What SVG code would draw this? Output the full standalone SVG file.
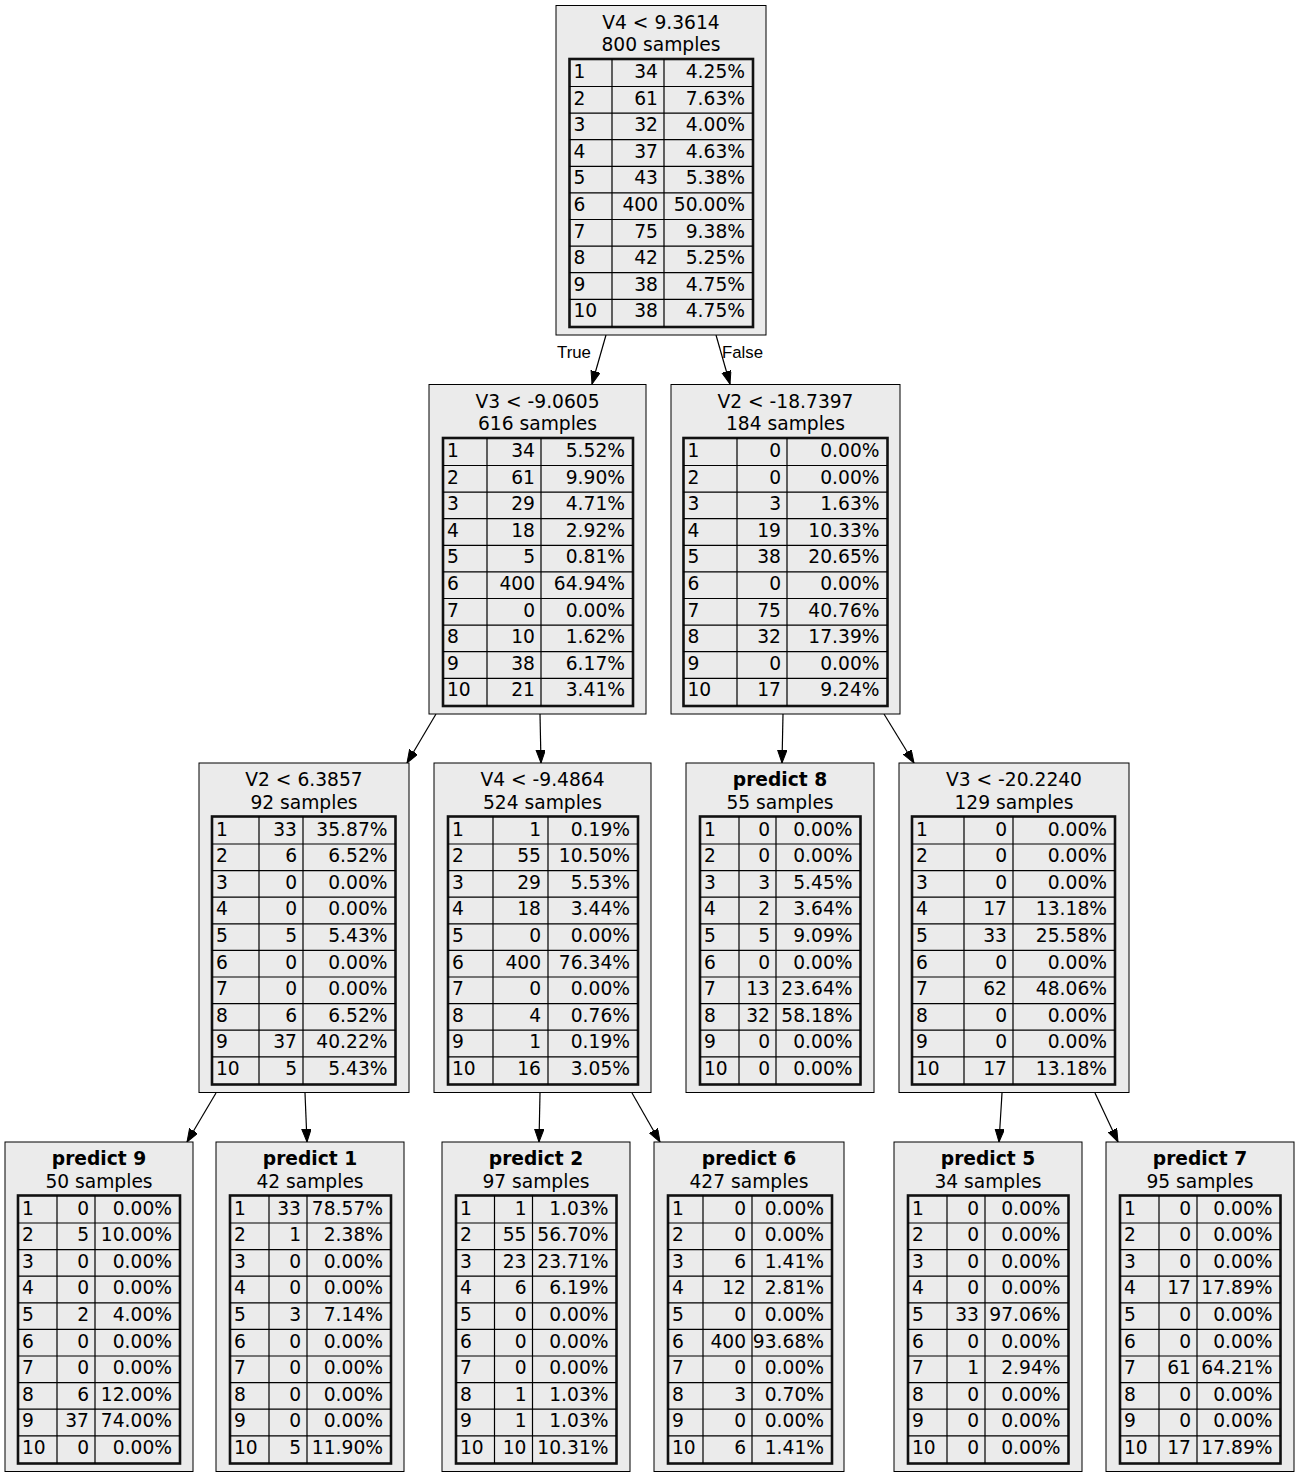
<svg xmlns="http://www.w3.org/2000/svg" width="1299" height="1477" viewBox="0 0 1299 1477">
<style>
text{font-family:"DejaVu Sans","Noto Sans",sans-serif;font-size:18.67px;fill:#000}
.c{text-anchor:middle}
.b{font-weight:bold}
.r{text-anchor:end}
.box{fill:#ebebeb;stroke:#000;stroke-width:1}
.tb{fill:#ebebeb;stroke:#111;stroke-width:2.6}
.grid{fill:none;stroke:#000;stroke-width:1.2}
.edge{fill:none;stroke:#000;stroke-width:1.2}
.el{font-family:"Liberation Sans",Arial,sans-serif;font-size:16.8px}
</style>
<defs>
<marker id="arr" markerUnits="userSpaceOnUse" markerWidth="14" markerHeight="10" refX="13" refY="4.7" orient="auto">
<path d="M0,0 L13,4.7 L0,9.4 z" fill="#000" stroke="#000" stroke-width="1"/>
</marker>
</defs>
<rect width="1299" height="1477" fill="#fff"/>

<g id="edges">
<path class="edge" d="M606,335 L592,384" marker-end="url(#arr)"/>
<path class="edge" d="M716,335 L730,384" marker-end="url(#arr)"/>
<path class="edge" d="M436,714 L407,763" marker-end="url(#arr)"/>
<path class="edge" d="M540,714 L541,763" marker-end="url(#arr)"/>
<path class="edge" d="M783,714 L782,763" marker-end="url(#arr)"/>
<path class="edge" d="M884,714 L914,763" marker-end="url(#arr)"/>
<path class="edge" d="M216,1093 L187,1142" marker-end="url(#arr)"/>
<path class="edge" d="M305,1093 L307,1142" marker-end="url(#arr)"/>
<path class="edge" d="M540,1093 L539,1142" marker-end="url(#arr)"/>
<path class="edge" d="M632,1093 L660,1142" marker-end="url(#arr)"/>
<path class="edge" d="M1002,1093 L999,1142" marker-end="url(#arr)"/>
<path class="edge" d="M1095,1093 L1118,1142" marker-end="url(#arr)"/>
<text class="el" x="557" y="358">True</text>
<text class="el" x="722" y="358">False</text>
</g>

<g id="n_root" transform="translate(556,5.5)">
<rect class="box" width="210" height="329.5"/>
<text class="c" x="105" y="23">V4 &lt; 9.3614</text>
<text class="c" x="105" y="45.5">800 samples</text>
<rect class="tb" x="13.5" y="53.5" width="183.5" height="268"/>
<path class="grid" d="M13.5,81H197M13.5,107.6H197M13.5,134.2H197M13.5,160.8H197M13.5,187.4H197M13.5,214H197M13.5,240.6H197M13.5,267.2H197M13.5,293.8H197M56,53.5V321.5M108,53.5V321.5"/>
<text x="17.5" y="72.5">1</text><text class="r" x="102" y="72.5">34</text><text class="r" x="189" y="72.5">4.25%</text>
<text x="17.5" y="99.1">2</text><text class="r" x="102" y="99.1">61</text><text class="r" x="189" y="99.1">7.63%</text>
<text x="17.5" y="125.7">3</text><text class="r" x="102" y="125.7">32</text><text class="r" x="189" y="125.7">4.00%</text>
<text x="17.5" y="152.3">4</text><text class="r" x="102" y="152.3">37</text><text class="r" x="189" y="152.3">4.63%</text>
<text x="17.5" y="178.9">5</text><text class="r" x="102" y="178.9">43</text><text class="r" x="189" y="178.9">5.38%</text>
<text x="17.5" y="205.5">6</text><text class="r" x="102" y="205.5">400</text><text class="r" x="189" y="205.5">50.00%</text>
<text x="17.5" y="232.1">7</text><text class="r" x="102" y="232.1">75</text><text class="r" x="189" y="232.1">9.38%</text>
<text x="17.5" y="258.7">8</text><text class="r" x="102" y="258.7">42</text><text class="r" x="189" y="258.7">5.25%</text>
<text x="17.5" y="285.3">9</text><text class="r" x="102" y="285.3">38</text><text class="r" x="189" y="285.3">4.75%</text>
<text x="17.5" y="311.9">10</text><text class="r" x="102" y="311.9">38</text><text class="r" x="189" y="311.9">4.75%</text>
</g>

<g id="n_a" transform="translate(429,384.5)">
<rect class="box" width="217" height="329.5"/>
<text class="c" x="108.5" y="23">V3 &lt; -9.0605</text>
<text class="c" x="108.5" y="45.5">616 samples</text>
<rect class="tb" x="14" y="53.5" width="190" height="268"/>
<path class="grid" d="M14,81H204M14,107.6H204M14,134.2H204M14,160.8H204M14,187.4H204M14,214H204M14,240.6H204M14,267.2H204M14,293.8H204M58,53.5V321.5M112,53.5V321.5"/>
<text x="18" y="72.5">1</text><text class="r" x="106" y="72.5">34</text><text class="r" x="196" y="72.5">5.52%</text>
<text x="18" y="99.1">2</text><text class="r" x="106" y="99.1">61</text><text class="r" x="196" y="99.1">9.90%</text>
<text x="18" y="125.7">3</text><text class="r" x="106" y="125.7">29</text><text class="r" x="196" y="125.7">4.71%</text>
<text x="18" y="152.3">4</text><text class="r" x="106" y="152.3">18</text><text class="r" x="196" y="152.3">2.92%</text>
<text x="18" y="178.9">5</text><text class="r" x="106" y="178.9">5</text><text class="r" x="196" y="178.9">0.81%</text>
<text x="18" y="205.5">6</text><text class="r" x="106" y="205.5">400</text><text class="r" x="196" y="205.5">64.94%</text>
<text x="18" y="232.1">7</text><text class="r" x="106" y="232.1">0</text><text class="r" x="196" y="232.1">0.00%</text>
<text x="18" y="258.7">8</text><text class="r" x="106" y="258.7">10</text><text class="r" x="196" y="258.7">1.62%</text>
<text x="18" y="285.3">9</text><text class="r" x="106" y="285.3">38</text><text class="r" x="196" y="285.3">6.17%</text>
<text x="18" y="311.9">10</text><text class="r" x="106" y="311.9">21</text><text class="r" x="196" y="311.9">3.41%</text>
</g>

<g id="n_b" transform="translate(671,384.5)">
<rect class="box" width="229" height="329.5"/>
<text class="c" x="114.5" y="23">V2 &lt; -18.7397</text>
<text class="c" x="114.5" y="45.5">184 samples</text>
<rect class="tb" x="12.5" y="53.5" width="204" height="268"/>
<path class="grid" d="M12.5,81H216.5M12.5,107.6H216.5M12.5,134.2H216.5M12.5,160.8H216.5M12.5,187.4H216.5M12.5,214H216.5M12.5,240.6H216.5M12.5,267.2H216.5M12.5,293.8H216.5M66,53.5V321.5M116,53.5V321.5"/>
<text x="16.5" y="72.5">1</text><text class="r" x="110" y="72.5">0</text><text class="r" x="208.5" y="72.5">0.00%</text>
<text x="16.5" y="99.1">2</text><text class="r" x="110" y="99.1">0</text><text class="r" x="208.5" y="99.1">0.00%</text>
<text x="16.5" y="125.7">3</text><text class="r" x="110" y="125.7">3</text><text class="r" x="208.5" y="125.7">1.63%</text>
<text x="16.5" y="152.3">4</text><text class="r" x="110" y="152.3">19</text><text class="r" x="208.5" y="152.3">10.33%</text>
<text x="16.5" y="178.9">5</text><text class="r" x="110" y="178.9">38</text><text class="r" x="208.5" y="178.9">20.65%</text>
<text x="16.5" y="205.5">6</text><text class="r" x="110" y="205.5">0</text><text class="r" x="208.5" y="205.5">0.00%</text>
<text x="16.5" y="232.1">7</text><text class="r" x="110" y="232.1">75</text><text class="r" x="208.5" y="232.1">40.76%</text>
<text x="16.5" y="258.7">8</text><text class="r" x="110" y="258.7">32</text><text class="r" x="208.5" y="258.7">17.39%</text>
<text x="16.5" y="285.3">9</text><text class="r" x="110" y="285.3">0</text><text class="r" x="208.5" y="285.3">0.00%</text>
<text x="16.5" y="311.9">10</text><text class="r" x="110" y="311.9">17</text><text class="r" x="208.5" y="311.9">9.24%</text>
</g>

<g id="n_c" transform="translate(199,763)">
<rect class="box" width="210" height="329.5"/>
<text class="c" x="105" y="23">V2 &lt; 6.3857</text>
<text class="c" x="105" y="45.5">92 samples</text>
<rect class="tb" x="13" y="53.5" width="183.5" height="268"/>
<path class="grid" d="M13,81H196.5M13,107.6H196.5M13,134.2H196.5M13,160.8H196.5M13,187.4H196.5M13,214H196.5M13,240.6H196.5M13,267.2H196.5M13,293.8H196.5M60,53.5V321.5M104,53.5V321.5"/>
<text x="17" y="72.5">1</text><text class="r" x="98" y="72.5">33</text><text class="r" x="188.5" y="72.5">35.87%</text>
<text x="17" y="99.1">2</text><text class="r" x="98" y="99.1">6</text><text class="r" x="188.5" y="99.1">6.52%</text>
<text x="17" y="125.7">3</text><text class="r" x="98" y="125.7">0</text><text class="r" x="188.5" y="125.7">0.00%</text>
<text x="17" y="152.3">4</text><text class="r" x="98" y="152.3">0</text><text class="r" x="188.5" y="152.3">0.00%</text>
<text x="17" y="178.9">5</text><text class="r" x="98" y="178.9">5</text><text class="r" x="188.5" y="178.9">5.43%</text>
<text x="17" y="205.5">6</text><text class="r" x="98" y="205.5">0</text><text class="r" x="188.5" y="205.5">0.00%</text>
<text x="17" y="232.1">7</text><text class="r" x="98" y="232.1">0</text><text class="r" x="188.5" y="232.1">0.00%</text>
<text x="17" y="258.7">8</text><text class="r" x="98" y="258.7">6</text><text class="r" x="188.5" y="258.7">6.52%</text>
<text x="17" y="285.3">9</text><text class="r" x="98" y="285.3">37</text><text class="r" x="188.5" y="285.3">40.22%</text>
<text x="17" y="311.9">10</text><text class="r" x="98" y="311.9">5</text><text class="r" x="188.5" y="311.9">5.43%</text>
</g>

<g id="n_d" transform="translate(434,763)">
<rect class="box" width="217" height="329.5"/>
<text class="c" x="108.5" y="23">V4 &lt; -9.4864</text>
<text class="c" x="108.5" y="45.5">524 samples</text>
<rect class="tb" x="14" y="53.5" width="190" height="268"/>
<path class="grid" d="M14,81H204M14,107.6H204M14,134.2H204M14,160.8H204M14,187.4H204M14,214H204M14,240.6H204M14,267.2H204M14,293.8H204M59,53.5V321.5M114,53.5V321.5"/>
<text x="18" y="72.5">1</text><text class="r" x="107" y="72.5">1</text><text class="r" x="196" y="72.5">0.19%</text>
<text x="18" y="99.1">2</text><text class="r" x="107" y="99.1">55</text><text class="r" x="196" y="99.1">10.50%</text>
<text x="18" y="125.7">3</text><text class="r" x="107" y="125.7">29</text><text class="r" x="196" y="125.7">5.53%</text>
<text x="18" y="152.3">4</text><text class="r" x="107" y="152.3">18</text><text class="r" x="196" y="152.3">3.44%</text>
<text x="18" y="178.9">5</text><text class="r" x="107" y="178.9">0</text><text class="r" x="196" y="178.9">0.00%</text>
<text x="18" y="205.5">6</text><text class="r" x="107" y="205.5">400</text><text class="r" x="196" y="205.5">76.34%</text>
<text x="18" y="232.1">7</text><text class="r" x="107" y="232.1">0</text><text class="r" x="196" y="232.1">0.00%</text>
<text x="18" y="258.7">8</text><text class="r" x="107" y="258.7">4</text><text class="r" x="196" y="258.7">0.76%</text>
<text x="18" y="285.3">9</text><text class="r" x="107" y="285.3">1</text><text class="r" x="196" y="285.3">0.19%</text>
<text x="18" y="311.9">10</text><text class="r" x="107" y="311.9">16</text><text class="r" x="196" y="311.9">3.05%</text>
</g>

<g id="n_e" transform="translate(686,763)">
<rect class="box" width="188" height="329.5"/>
<text class="c b" x="94" y="23">predict 8</text>
<text class="c" x="94" y="45.5">55 samples</text>
<rect class="tb" x="14" y="53.5" width="160.5" height="268"/>
<path class="grid" d="M14,81H174.5M14,107.6H174.5M14,134.2H174.5M14,160.8H174.5M14,187.4H174.5M14,214H174.5M14,240.6H174.5M14,267.2H174.5M14,293.8H174.5M53,53.5V321.5M90,53.5V321.5"/>
<text x="18" y="72.5">1</text><text class="r" x="84" y="72.5">0</text><text class="r" x="166.5" y="72.5">0.00%</text>
<text x="18" y="99.1">2</text><text class="r" x="84" y="99.1">0</text><text class="r" x="166.5" y="99.1">0.00%</text>
<text x="18" y="125.7">3</text><text class="r" x="84" y="125.7">3</text><text class="r" x="166.5" y="125.7">5.45%</text>
<text x="18" y="152.3">4</text><text class="r" x="84" y="152.3">2</text><text class="r" x="166.5" y="152.3">3.64%</text>
<text x="18" y="178.9">5</text><text class="r" x="84" y="178.9">5</text><text class="r" x="166.5" y="178.9">9.09%</text>
<text x="18" y="205.5">6</text><text class="r" x="84" y="205.5">0</text><text class="r" x="166.5" y="205.5">0.00%</text>
<text x="18" y="232.1">7</text><text class="r" x="84" y="232.1">13</text><text class="r" x="166.5" y="232.1">23.64%</text>
<text x="18" y="258.7">8</text><text class="r" x="84" y="258.7">32</text><text class="r" x="166.5" y="258.7">58.18%</text>
<text x="18" y="285.3">9</text><text class="r" x="84" y="285.3">0</text><text class="r" x="166.5" y="285.3">0.00%</text>
<text x="18" y="311.9">10</text><text class="r" x="84" y="311.9">0</text><text class="r" x="166.5" y="311.9">0.00%</text>
</g>

<g id="n_f" transform="translate(899,763)">
<rect class="box" width="230" height="329.5"/>
<text class="c" x="115" y="23">V3 &lt; -20.2240</text>
<text class="c" x="115" y="45.5">129 samples</text>
<rect class="tb" x="13" y="53.5" width="203" height="268"/>
<path class="grid" d="M13,81H216M13,107.6H216M13,134.2H216M13,160.8H216M13,187.4H216M13,214H216M13,240.6H216M13,267.2H216M13,293.8H216M65,53.5V321.5M114,53.5V321.5"/>
<text x="17" y="72.5">1</text><text class="r" x="108" y="72.5">0</text><text class="r" x="208" y="72.5">0.00%</text>
<text x="17" y="99.1">2</text><text class="r" x="108" y="99.1">0</text><text class="r" x="208" y="99.1">0.00%</text>
<text x="17" y="125.7">3</text><text class="r" x="108" y="125.7">0</text><text class="r" x="208" y="125.7">0.00%</text>
<text x="17" y="152.3">4</text><text class="r" x="108" y="152.3">17</text><text class="r" x="208" y="152.3">13.18%</text>
<text x="17" y="178.9">5</text><text class="r" x="108" y="178.9">33</text><text class="r" x="208" y="178.9">25.58%</text>
<text x="17" y="205.5">6</text><text class="r" x="108" y="205.5">0</text><text class="r" x="208" y="205.5">0.00%</text>
<text x="17" y="232.1">7</text><text class="r" x="108" y="232.1">62</text><text class="r" x="208" y="232.1">48.06%</text>
<text x="17" y="258.7">8</text><text class="r" x="108" y="258.7">0</text><text class="r" x="208" y="258.7">0.00%</text>
<text x="17" y="285.3">9</text><text class="r" x="108" y="285.3">0</text><text class="r" x="208" y="285.3">0.00%</text>
<text x="17" y="311.9">10</text><text class="r" x="108" y="311.9">17</text><text class="r" x="208" y="311.9">13.18%</text>
</g>

<g id="n_g" transform="translate(5,1142)">
<rect class="box" width="188" height="329.5"/>
<text class="c b" x="94" y="23">predict 9</text>
<text class="c" x="94" y="45.5">50 samples</text>
<rect class="tb" x="13" y="53.5" width="162" height="268"/>
<path class="grid" d="M13,81H175M13,107.6H175M13,134.2H175M13,160.8H175M13,187.4H175M13,214H175M13,240.6H175M13,267.2H175M13,293.8H175M52,53.5V321.5M90,53.5V321.5"/>
<text x="17" y="72.5">1</text><text class="r" x="84" y="72.5">0</text><text class="r" x="167" y="72.5">0.00%</text>
<text x="17" y="99.1">2</text><text class="r" x="84" y="99.1">5</text><text class="r" x="167" y="99.1">10.00%</text>
<text x="17" y="125.7">3</text><text class="r" x="84" y="125.7">0</text><text class="r" x="167" y="125.7">0.00%</text>
<text x="17" y="152.3">4</text><text class="r" x="84" y="152.3">0</text><text class="r" x="167" y="152.3">0.00%</text>
<text x="17" y="178.9">5</text><text class="r" x="84" y="178.9">2</text><text class="r" x="167" y="178.9">4.00%</text>
<text x="17" y="205.5">6</text><text class="r" x="84" y="205.5">0</text><text class="r" x="167" y="205.5">0.00%</text>
<text x="17" y="232.1">7</text><text class="r" x="84" y="232.1">0</text><text class="r" x="167" y="232.1">0.00%</text>
<text x="17" y="258.7">8</text><text class="r" x="84" y="258.7">6</text><text class="r" x="167" y="258.7">12.00%</text>
<text x="17" y="285.3">9</text><text class="r" x="84" y="285.3">37</text><text class="r" x="167" y="285.3">74.00%</text>
<text x="17" y="311.9">10</text><text class="r" x="84" y="311.9">0</text><text class="r" x="167" y="311.9">0.00%</text>
</g>

<g id="n_h" transform="translate(216,1142)">
<rect class="box" width="188" height="329.5"/>
<text class="c b" x="94" y="23">predict 1</text>
<text class="c" x="94" y="45.5">42 samples</text>
<rect class="tb" x="14" y="53.5" width="161" height="268"/>
<path class="grid" d="M14,81H175M14,107.6H175M14,134.2H175M14,160.8H175M14,187.4H175M14,214H175M14,240.6H175M14,267.2H175M14,293.8H175M53,53.5V321.5M91,53.5V321.5"/>
<text x="18" y="72.5">1</text><text class="r" x="85" y="72.5">33</text><text class="r" x="167" y="72.5">78.57%</text>
<text x="18" y="99.1">2</text><text class="r" x="85" y="99.1">1</text><text class="r" x="167" y="99.1">2.38%</text>
<text x="18" y="125.7">3</text><text class="r" x="85" y="125.7">0</text><text class="r" x="167" y="125.7">0.00%</text>
<text x="18" y="152.3">4</text><text class="r" x="85" y="152.3">0</text><text class="r" x="167" y="152.3">0.00%</text>
<text x="18" y="178.9">5</text><text class="r" x="85" y="178.9">3</text><text class="r" x="167" y="178.9">7.14%</text>
<text x="18" y="205.5">6</text><text class="r" x="85" y="205.5">0</text><text class="r" x="167" y="205.5">0.00%</text>
<text x="18" y="232.1">7</text><text class="r" x="85" y="232.1">0</text><text class="r" x="167" y="232.1">0.00%</text>
<text x="18" y="258.7">8</text><text class="r" x="85" y="258.7">0</text><text class="r" x="167" y="258.7">0.00%</text>
<text x="18" y="285.3">9</text><text class="r" x="85" y="285.3">0</text><text class="r" x="167" y="285.3">0.00%</text>
<text x="18" y="311.9">10</text><text class="r" x="85" y="311.9">5</text><text class="r" x="167" y="311.9">11.90%</text>
</g>

<g id="n_i" transform="translate(442,1142)">
<rect class="box" width="188" height="329.5"/>
<text class="c b" x="94" y="23">predict 2</text>
<text class="c" x="94" y="45.5">97 samples</text>
<rect class="tb" x="14" y="53.5" width="160.5" height="268"/>
<path class="grid" d="M14,81H174.5M14,107.6H174.5M14,134.2H174.5M14,160.8H174.5M14,187.4H174.5M14,214H174.5M14,240.6H174.5M14,267.2H174.5M14,293.8H174.5M52.5,53.5V321.5M90.5,53.5V321.5"/>
<text x="18" y="72.5">1</text><text class="r" x="84.5" y="72.5">1</text><text class="r" x="166.5" y="72.5">1.03%</text>
<text x="18" y="99.1">2</text><text class="r" x="84.5" y="99.1">55</text><text class="r" x="166.5" y="99.1">56.70%</text>
<text x="18" y="125.7">3</text><text class="r" x="84.5" y="125.7">23</text><text class="r" x="166.5" y="125.7">23.71%</text>
<text x="18" y="152.3">4</text><text class="r" x="84.5" y="152.3">6</text><text class="r" x="166.5" y="152.3">6.19%</text>
<text x="18" y="178.9">5</text><text class="r" x="84.5" y="178.9">0</text><text class="r" x="166.5" y="178.9">0.00%</text>
<text x="18" y="205.5">6</text><text class="r" x="84.5" y="205.5">0</text><text class="r" x="166.5" y="205.5">0.00%</text>
<text x="18" y="232.1">7</text><text class="r" x="84.5" y="232.1">0</text><text class="r" x="166.5" y="232.1">0.00%</text>
<text x="18" y="258.7">8</text><text class="r" x="84.5" y="258.7">1</text><text class="r" x="166.5" y="258.7">1.03%</text>
<text x="18" y="285.3">9</text><text class="r" x="84.5" y="285.3">1</text><text class="r" x="166.5" y="285.3">1.03%</text>
<text x="18" y="311.9">10</text><text class="r" x="84.5" y="311.9">10</text><text class="r" x="166.5" y="311.9">10.31%</text>
</g>

<g id="n_j" transform="translate(654,1142)">
<rect class="box" width="190" height="329.5"/>
<text class="c b" x="95" y="23">predict 6</text>
<text class="c" x="95" y="45.5">427 samples</text>
<rect class="tb" x="14" y="53.5" width="164" height="268"/>
<path class="grid" d="M14,81H178M14,107.6H178M14,134.2H178M14,160.8H178M14,187.4H178M14,214H178M14,240.6H178M14,267.2H178M14,293.8H178M49,53.5V321.5M98,53.5V321.5"/>
<text x="18" y="72.5">1</text><text class="r" x="92" y="72.5">0</text><text class="r" x="170" y="72.5">0.00%</text>
<text x="18" y="99.1">2</text><text class="r" x="92" y="99.1">0</text><text class="r" x="170" y="99.1">0.00%</text>
<text x="18" y="125.7">3</text><text class="r" x="92" y="125.7">6</text><text class="r" x="170" y="125.7">1.41%</text>
<text x="18" y="152.3">4</text><text class="r" x="92" y="152.3">12</text><text class="r" x="170" y="152.3">2.81%</text>
<text x="18" y="178.9">5</text><text class="r" x="92" y="178.9">0</text><text class="r" x="170" y="178.9">0.00%</text>
<text x="18" y="205.5">6</text><text class="r" x="92" y="205.5">400</text><text class="r" x="170" y="205.5">93.68%</text>
<text x="18" y="232.1">7</text><text class="r" x="92" y="232.1">0</text><text class="r" x="170" y="232.1">0.00%</text>
<text x="18" y="258.7">8</text><text class="r" x="92" y="258.7">3</text><text class="r" x="170" y="258.7">0.70%</text>
<text x="18" y="285.3">9</text><text class="r" x="92" y="285.3">0</text><text class="r" x="170" y="285.3">0.00%</text>
<text x="18" y="311.9">10</text><text class="r" x="92" y="311.9">6</text><text class="r" x="170" y="311.9">1.41%</text>
</g>

<g id="n_k" transform="translate(894,1142)">
<rect class="box" width="188" height="329.5"/>
<text class="c b" x="94" y="23">predict 5</text>
<text class="c" x="94" y="45.5">34 samples</text>
<rect class="tb" x="14" y="53.5" width="160.5" height="268"/>
<path class="grid" d="M14,81H174.5M14,107.6H174.5M14,134.2H174.5M14,160.8H174.5M14,187.4H174.5M14,214H174.5M14,240.6H174.5M14,267.2H174.5M14,293.8H174.5M53,53.5V321.5M91,53.5V321.5"/>
<text x="18" y="72.5">1</text><text class="r" x="85" y="72.5">0</text><text class="r" x="166.5" y="72.5">0.00%</text>
<text x="18" y="99.1">2</text><text class="r" x="85" y="99.1">0</text><text class="r" x="166.5" y="99.1">0.00%</text>
<text x="18" y="125.7">3</text><text class="r" x="85" y="125.7">0</text><text class="r" x="166.5" y="125.7">0.00%</text>
<text x="18" y="152.3">4</text><text class="r" x="85" y="152.3">0</text><text class="r" x="166.5" y="152.3">0.00%</text>
<text x="18" y="178.9">5</text><text class="r" x="85" y="178.9">33</text><text class="r" x="166.5" y="178.9">97.06%</text>
<text x="18" y="205.5">6</text><text class="r" x="85" y="205.5">0</text><text class="r" x="166.5" y="205.5">0.00%</text>
<text x="18" y="232.1">7</text><text class="r" x="85" y="232.1">1</text><text class="r" x="166.5" y="232.1">2.94%</text>
<text x="18" y="258.7">8</text><text class="r" x="85" y="258.7">0</text><text class="r" x="166.5" y="258.7">0.00%</text>
<text x="18" y="285.3">9</text><text class="r" x="85" y="285.3">0</text><text class="r" x="166.5" y="285.3">0.00%</text>
<text x="18" y="311.9">10</text><text class="r" x="85" y="311.9">0</text><text class="r" x="166.5" y="311.9">0.00%</text>
</g>

<g id="n_l" transform="translate(1106,1142)">
<rect class="box" width="188" height="329.5"/>
<text class="c b" x="94" y="23">predict 7</text>
<text class="c" x="94" y="45.5">95 samples</text>
<rect class="tb" x="14" y="53.5" width="160.5" height="268"/>
<path class="grid" d="M14,81H174.5M14,107.6H174.5M14,134.2H174.5M14,160.8H174.5M14,187.4H174.5M14,214H174.5M14,240.6H174.5M14,267.2H174.5M14,293.8H174.5M53,53.5V321.5M91,53.5V321.5"/>
<text x="18" y="72.5">1</text><text class="r" x="85" y="72.5">0</text><text class="r" x="166.5" y="72.5">0.00%</text>
<text x="18" y="99.1">2</text><text class="r" x="85" y="99.1">0</text><text class="r" x="166.5" y="99.1">0.00%</text>
<text x="18" y="125.7">3</text><text class="r" x="85" y="125.7">0</text><text class="r" x="166.5" y="125.7">0.00%</text>
<text x="18" y="152.3">4</text><text class="r" x="85" y="152.3">17</text><text class="r" x="166.5" y="152.3">17.89%</text>
<text x="18" y="178.9">5</text><text class="r" x="85" y="178.9">0</text><text class="r" x="166.5" y="178.9">0.00%</text>
<text x="18" y="205.5">6</text><text class="r" x="85" y="205.5">0</text><text class="r" x="166.5" y="205.5">0.00%</text>
<text x="18" y="232.1">7</text><text class="r" x="85" y="232.1">61</text><text class="r" x="166.5" y="232.1">64.21%</text>
<text x="18" y="258.7">8</text><text class="r" x="85" y="258.7">0</text><text class="r" x="166.5" y="258.7">0.00%</text>
<text x="18" y="285.3">9</text><text class="r" x="85" y="285.3">0</text><text class="r" x="166.5" y="285.3">0.00%</text>
<text x="18" y="311.9">10</text><text class="r" x="85" y="311.9">17</text><text class="r" x="166.5" y="311.9">17.89%</text>
</g>
</svg>
